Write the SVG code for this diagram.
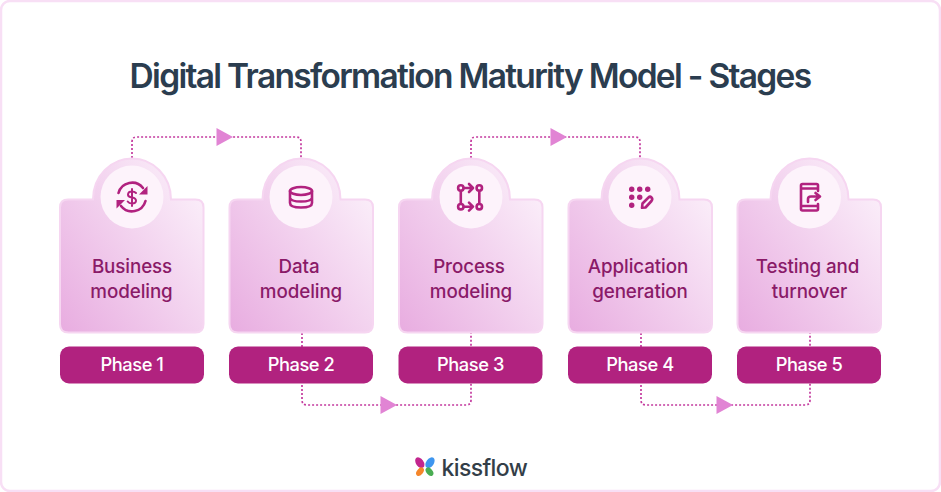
<svg xmlns="http://www.w3.org/2000/svg" width="941" height="492" viewBox="0 0 941 492">
<style>
text{font-family:Inter,"Liberation Sans",sans-serif;text-anchor:middle}
.t{font-size:33.500px;font-weight:600;fill:#2b3d4f;letter-spacing:-1.7px}
.l{font-size:18.800px;font-weight:500;fill:#8a1a68;letter-spacing:-0.1px}
.p{font-size:18.300px;font-weight:500;fill:#fff;letter-spacing:-0.45px}
.b{fill:url(#g);stroke:#f6d6f1;stroke-width:2}
.c{fill:#fdf3fb}
.h{fill:#b1227f}
.i{fill:none;stroke:#b1227f;stroke-width:2.600;stroke-linecap:round;stroke-linejoin:round}
.d{fill:#b1227f}
.w{fill:none;stroke:#c43a9e;stroke-width:1.700;stroke-dasharray:2 2}
.a{fill:#e184d4}
</style>
<defs>
<linearGradient id="g" x1="0" y1="1" x2="1" y2="0.15">
<stop offset="0" stop-color="#e8ace0"/>
<stop offset="1" stop-color="#fbf0fa"/>
</linearGradient>
<path id="card" class="b" d="M68 199.500H93C93 176 111 158.500 132 158.500S171 176 171 199.500H195.500Q203.500 199.500 203.500 207.500V324Q203.500 332.500 195.500 332.500H68.500Q60 332.500 60 324V207.500Q60 199.500 68 199.500Z"/>
</defs>
<rect x="1" y="1" width="939" height="490" rx="9" fill="#fff" stroke="#f8dff5" stroke-width="2.500"/>
<text class="t" x="470" y="87.500">Digital Transformation Maturity Model - Stages</text>
<g id="connectors">
<path class="w" d="M132 158V142Q132 137 137 137H296Q301 137 301 142V158"/>
<polygon class="a" points="216.500,128 233,137 216.500,146"/>
<path class="w" d="M471 158V142Q471 137 476 137H635Q640 137 640 142V158"/>
<polygon class="a" points="550.500,128 567,137 550.500,146"/>
<path class="w" d="M302 333V400Q302 405 307 405H466Q471 405 471 400V333"/>
<polygon class="a" points="380.500,396 397,405 380.500,414"/>
<path class="w" d="M641 333V400Q641 405 646 405H805Q810 405 810 400V333"/>
<polygon class="a" points="716.500,396 733,405 716.500,414"/>
</g>
<g id="node1">
<use href="#card"/><circle class="c" cx="132" cy="197" r="31.500"/>
<path class="i" d="M118.500 193A14 14 0 0 1 143 188M145.500 201A14 14 0 0 1 121 206"/>
<path class="d" d="M147.500 186V194.500H139ZM116.500 208.500V200H125Z"/>
<path class="i" style="stroke-width:2" d="M136 193Q134.500 191.500 132 191.500Q128 191.500 128 194.800Q128 197 132 197.500Q136 198 136 200.800Q136 203.500 132 203.500Q129 203.500 127.700 201.500M132 189V206"/>
<text class="l" x="132" y="272.700">Business</text><text class="l" x="131.500" y="297.700">modeling</text>
</g>
<g id="node2">
<use href="#card" x="169.500"/><circle class="c" cx="301" cy="197" r="31.500"/>
<ellipse class="i" cx="301" cy="191" rx="11" ry="4"/>
<path class="i" d="M290 191V203Q290 207.500 301 207.500T312 203V191M290 198Q291 201.500 301 201.500T312 198"/>
<text class="l" x="299" y="272.700">Data</text><text class="l" x="301" y="297.700">modeling</text>
</g>
<g id="node3">
<use href="#card" x="339"/><circle class="c" cx="471" cy="197" r="31.500"/>
<circle class="i" cx="460.800" cy="188" r="2.700"/><circle class="i" cx="479.300" cy="188" r="2.700"/><circle class="i" cx="460.800" cy="206.700" r="2.700"/><circle class="i" cx="479.300" cy="206.700" r="2.700"/>
<path class="i" d="M460.800 191V203.700M479.300 191V203.700M464 188H472.500M469 184L473 188L469 192M464 206.700H472.500M469 202.700L473 206.700L469 210.700"/>
<text class="l" x="469" y="272.700">Process</text><text class="l" x="471" y="297.700">modeling</text>
</g>
<g id="node4">
<use href="#card" x="508.500"/><circle class="c" cx="640" cy="197" r="31.500"/>
<circle class="d" cx="631.700" cy="189.300" r="2.700"/><circle class="d" cx="639.700" cy="189.300" r="2.700"/><circle class="d" cx="647.700" cy="189.300" r="2.700"/><circle class="d" cx="631.700" cy="197.300" r="2.700"/><circle class="d" cx="639.700" cy="197.300" r="2.700"/><circle class="d" cx="631.700" cy="205.300" r="2.700"/>
<path class="i" d="M642.500 203.500L648.500 197.500Q650 196 651.500 197.500T651.500 201L645.500 207.500L642 207.800Z"/>
<text class="l" x="638" y="272.700">Application</text><text class="l" x="640" y="297.700">generation</text>
</g>
<g id="node5">
<use href="#card" x="677.500"/><circle class="c" cx="809.500" cy="197" r="31.500"/>
<path class="i" d="M818 191V185.500Q818 184 816.500 184H802.500Q801 184 801 185.500V209Q801 210.500 802.500 210.500H816.500Q818 210.500 818 209V204M801 188.500H818M801 206H818"/>
<path class="i" d="M808 202V199Q808 196.500 811 196.500H818.500M815.500 193L820 196.500L815.500 200"/>
<text class="l" x="807.500" y="272.700">Testing and</text><text class="l" x="809.500" y="297.700">turnover</text>
</g>
<g id="phase1"><rect class="h" x="60" y="346.500" width="144" height="37" rx="9"/><text class="p" x="132" y="370.700">Phase 1</text></g>
<g id="phase2"><rect class="h" x="229" y="346.500" width="144" height="37" rx="9"/><text class="p" x="301" y="370.700">Phase 2</text></g>
<g id="phase3"><rect class="h" x="398.500" y="346.500" width="144" height="37" rx="9"/><text class="p" x="470.500" y="370.700">Phase 3</text></g>
<g id="phase4"><rect class="h" x="568" y="346.500" width="144" height="37" rx="9"/><text class="p" x="640" y="370.700">Phase 4</text></g>
<g id="phase5"><rect class="h" x="737" y="346.500" width="144" height="37" rx="9"/><text class="p" x="809" y="370.700">Phase 5</text></g>
<g id="logo">
<ellipse cx="419.800" cy="462.700" rx="3.800" ry="6" transform="rotate(-35 419.800 462.700)" fill="#c2268e"/>
<ellipse cx="430" cy="462.700" rx="3.800" ry="6" transform="rotate(35 430 462.700)" fill="#3e96ef"/>
<ellipse cx="420" cy="471.700" rx="3" ry="4.800" transform="rotate(40 420 471.700)" fill="#f5862a"/>
<ellipse cx="429.500" cy="471.700" rx="3" ry="4.800" transform="rotate(-40 429.500 471.700)" fill="#4aad52"/>
<text x="484.300" y="475.700" style="font-size:23px;font-weight:500;fill:#333e48;letter-spacing:-0.6px">kissflow</text>
</g>
</svg>
